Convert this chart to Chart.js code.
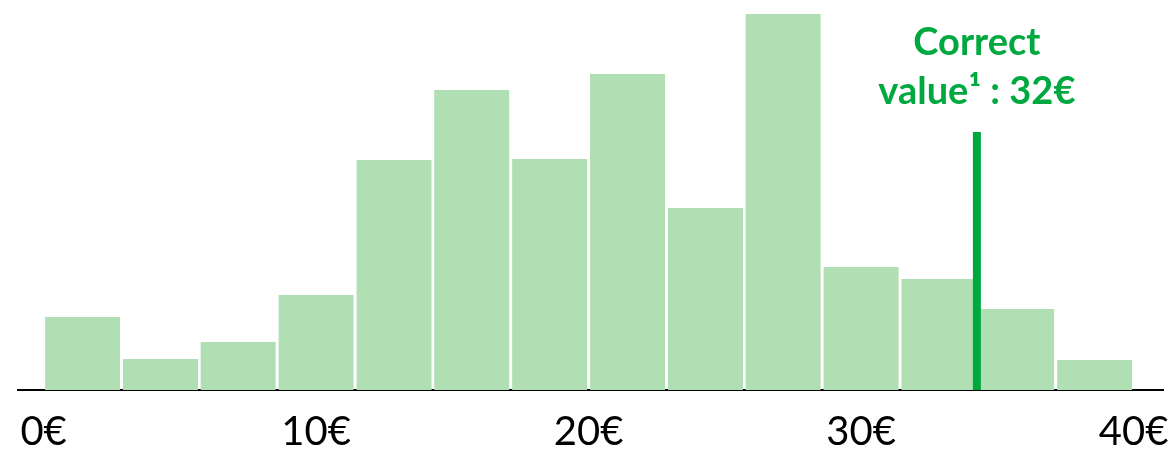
<!DOCTYPE html>
<html>
<head>
<meta charset="utf-8">
<script src="https://cdn.jsdelivr.net/npm/chart.js@4"></script>
<style>
  html, body { margin: 0; padding: 0; background: #fff; }
  #wrap { width: 1173px; height: 451px; position: relative; }
</style>
</head>
<body>
<div id="wrap"><canvas id="c" width="1173" height="451"></canvas></div>
<script>
// Histogram bins (centre of each bin, in €)
const binCenters = [1.43, 4.29, 7.14, 10.0, 12.86, 15.71, 18.57, 21.43, 24.29, 27.14, 30.0, 32.86, 35.71, 38.57];
// Relative frequencies
const binHeights = [73, 31, 48, 95, 230, 300, 231, 316, 182, 376, 123, 111, 81, 30];
// Tick labels
const tickValues = [0, 10, 20, 30, 40];
const tickLabels = ['0€', '10€', '20€', '30€', '40€'];
// Marker for the correct value
const markerX = 34.25;
const markerHeight = 258;
const markerLabel = ['Correct', 'value¹ : 32€'];

const GREEN = '#00A940';
const BAR = '#AFDFB3';

const annot = {
  id: 'annot',
  afterDatasetsDraw(chart) {
    const ctx = chart.ctx;
    const xs = chart.scales.x, ys = chart.scales.y;
    const px = xs.getPixelForValue(markerX);
    const top = ys.getPixelForValue(markerHeight);
    ctx.save();
    ctx.fillStyle = GREEN;
    ctx.font = 'bold 38px Lato, "Open Sans", sans-serif';
    ctx.textAlign = 'center';
    ctx.textBaseline = 'alphabetic';
    ctx.fillText(markerLabel[0], px, top - 77);
    ctx.fillText(markerLabel[1], px, top - 28);
    ctx.restore();
  }
};

new Chart(document.getElementById('c'), {
  data: {
    datasets: [
      {
        type: 'line',
        order: 0,
        data: [{x: markerX, y: 0}, {x: markerX, y: markerHeight}],
        borderColor: GREEN,
        borderWidth: 8,
        pointRadius: 0,
        borderCapStyle: 'butt',
        clip: false
      },
      {
        type: 'bar',
        order: 1,
        data: binCenters.map((x, i) => ({x: x, y: binHeights[i]})),
        backgroundColor: BAR,
        borderWidth: 0,
        categoryPercentage: 1,
        barPercentage: 0.965
      }
    ]
  },
  options: {
    responsive: false,
    animation: false,
    devicePixelRatio: 1,
    layout: { padding: { left: 18, right: 10, top: 10, bottom: 0 } },
    plugins: { legend: { display: false }, tooltip: { enabled: false } },
    scales: {
      x: {
        type: 'linear',
        offset: false,
        min: -0.94,
        max: 41.08,
        grid: { display: false, drawTicks: false },
        border: { display: true, color: '#000', width: 2 },
        afterBuildTicks(scale) { scale.ticks = tickValues.map(v => ({value: v})); },
        afterFit(scale) { scale.paddingLeft = 0; scale.paddingRight = 0; scale.height = 61; },
        ticks: {
          color: '#000',
          padding: 18,
          font: { family: 'Lato, "Open Sans", sans-serif', size: 40 },
          callback: (v) => tickLabels[tickValues.indexOf(v)],
          maxRotation: 0,
          autoSkip: false
        }
      },
      y: {
        display: false,
        min: 0,
        max: 380
      }
    }
  },
  plugins: [annot]
});
</script>
</body>
</html>
